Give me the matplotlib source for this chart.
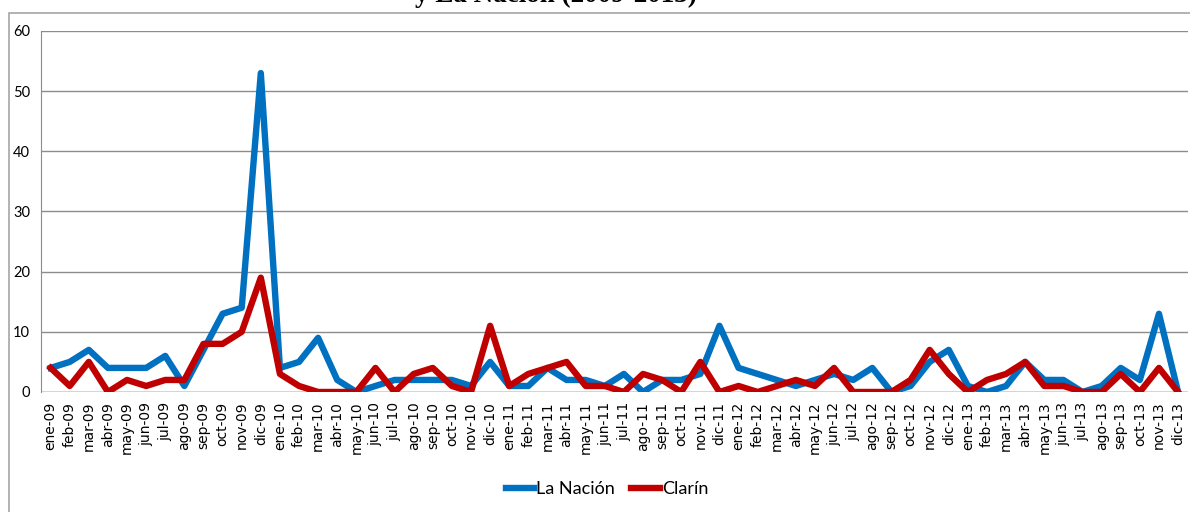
import numpy as np
import matplotlib.pyplot as plt
from matplotlib.patches import Rectangle

# meses ene-09 ... dic-13
meses = ['ene', 'feb', 'mar', 'abr', 'may', 'jun', 'jul', 'ago', 'sep', 'oct', 'nov', 'dic']
anios = ['09', '10', '11', '12', '13']
etiquetas = [m + '-' + a for a in anios for m in meses]

la_nacion = [4, 5, 7, 4, 4, 4, 6, 1, 7, 13, 14, 53,
             4, 5, 9, 2, 0, 1, 2, 2, 2, 2, 1, 5,
             1, 1, 4, 2, 2, 1, 3, 0, 2, 2, 3, 11,
             4, 3, 2, 1, 2, 3, 2, 4, 0, 1, 5, 7,
             1, 0, 1, 5, 2, 2, 0, 1, 4, 2, 13, 0]
clarin = [4, 1, 5, 0, 2, 1, 2, 2, 8, 8, 10, 19,
          3, 1, 0, 0, 0, 4, 0, 3, 4, 1, 0, 11,
          1, 3, 4, 5, 1, 1, 0, 3, 2, 0, 5, 0,
          1, 0, 1, 2, 1, 4, 0, 0, 0, 2, 7, 3,
          0, 2, 3, 5, 1, 1, 0, 0, 3, 0, 4, 0]

fig = plt.figure(figsize=(11.9, 5.12), dpi=100)
ax = fig.add_axes([0.0345, 0.2344, 0.9635, 0.7051])

x = np.arange(len(etiquetas))
ax.plot(x, la_nacion, color='#0070C0', lw=4.6, solid_joinstyle='round', label='La Nación')
ax.plot(x, clarin, color='#C00000', lw=4.6, solid_joinstyle='round', label='Clarín')

ax.set_xlim(-0.5, len(etiquetas) - 0.5)
ax.set_ylim(0, 60)
ax.set_yticks(range(0, 61, 10))
ax.set_yticklabels([str(v) for v in range(0, 61, 10)], family='Lato', fontsize=10.5)
ax.set_xticks(x)
ax.set_xticklabels(etiquetas, rotation=90, family='DejaVu Sans', fontsize=10)
ax.tick_params(axis='x', length=0, pad=7)
ax.tick_params(axis='y', length=0, pad=8)
ax.yaxis.grid(True, color='#8c8c8c', lw=1)
ax.set_axisbelow(True)
for s in ['top', 'right', 'bottom']:
    ax.spines[s].set_visible(False)
ax.spines['left'].set_color('#8c8c8c')
ax.axhline(0, color='#8c8c8c', lw=1, zorder=1)

# marco exterior del grafico
fig.patches.append(Rectangle((9 / 1190, -0.1), 1.1, 1 - 13 / 512 + 0.1,
                             transform=fig.transFigure, fill=False,
                             edgecolor='#a6a6a6', lw=1.2))

# titulo recortado arriba
fig.text(0.467, 0.9955, 'y La Nación (2009-2013)', ha='center', va='baseline',
         family='Liberation Serif', weight='bold', fontsize=19.5)

leg = fig.legend(loc='center', bbox_to_anchor=(0.51, 0.045), ncol=2, frameon=False,
                 prop={'family': 'Lato', 'size': 13}, handlelength=1.6,
                 handletextpad=0.1, columnspacing=0.9)

fig.savefig('out.png', dpi=100)
